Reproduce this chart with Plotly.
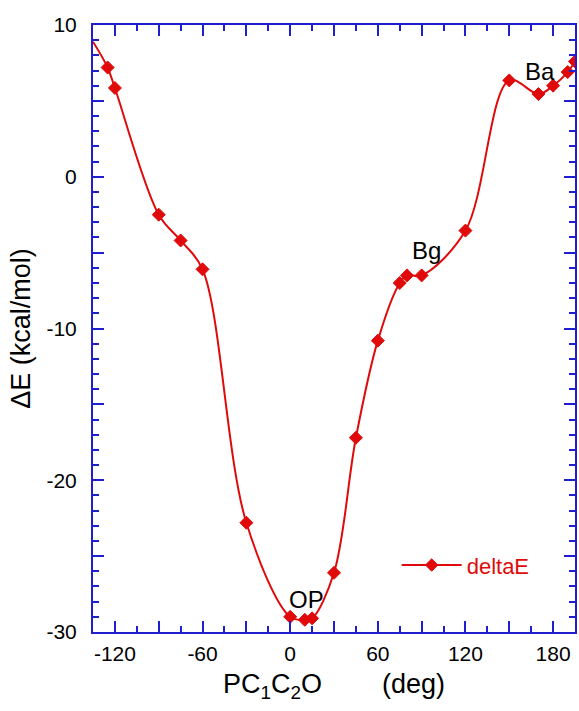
import plotly.graph_objects as go

# Data (dihedral angle in degrees, relative energy in kcal/mol)
# The first point is the curve's left end (no marker shown there)
dihedral = [-135, -125, -120, -90, -75, -60, -30, 0, 10, 15, 30, 45, 60, 75, 80, 90,
            120, 150, 170, 180, 190, 195]
delta_e = [8.9, 7.2, 5.85, -2.5, -4.2, -6.1, -22.8, -29.0, -29.2, -29.1, -26.1, -17.2,
           -10.8, -7.0, -6.5, -6.5, -3.55, 6.35, 5.45, 6.0, 6.9, 7.6]
marker_shown = [False] + [True] * (len(dihedral) - 1)

x_tickvals = [-120, -90, -60, -30, 0, 30, 60, 90, 120, 150, 180]
x_ticktext = ["-120", "", "-60", "", "0", "", "60", "", "120", "", "180"]
y_tickvals = [-30, -25, -20, -15, -10, -5, 0, 5, 10]
y_ticktext = ["-30", "", "-20", "", "-10", "", "0", "", "10"]

# labels: (text, index of the data point they belong to, x shift px, y shift px)
point_labels = [("OP", 8, 2, 20), ("Bg", 15, 5, 25), ("Ba", 18, 2, 23)]

RED = "#e00a0a"
BLUE = "#1f1fd0"
FONT = "Liberation Sans, Arial, Helvetica, sans-serif"

fig = go.Figure()
fig.add_trace(go.Scatter(
    x=dihedral, y=delta_e, mode="lines+markers", name="deltaE",
    line=dict(color=RED, width=2, shape="spline", smoothing=1.0),
    marker=dict(symbol="diamond", color=RED, opacity=1,
                size=[10 if s else 0 for s in marker_shown],
                line=dict(color=RED, width=1)),
    cliponaxis=True,
))

for text, idx, dx, dy in point_labels:
    fig.add_annotation(x=dihedral[idx], y=delta_e[idx], text=text, showarrow=False,
                       xshift=dx, yshift=dy,
                       font=dict(family=FONT, size=24, color="black"))

axis_common = dict(
    showline=True, linecolor=BLUE, linewidth=2, mirror="allticks",
    ticks="inside", tickcolor=BLUE, tickwidth=2, ticklen=11,
    showgrid=False, zeroline=False,
    tickfont=dict(family=FONT, size=21, color="black"),
)

fig.update_xaxes(
    range=[-135, 195], tickmode="array", tickvals=x_tickvals, ticktext=x_ticktext,
    minor=dict(ticks="inside", dtick=15, tick0=0, ticklen=6, tickcolor=BLUE, tickwidth=2),
    ticklabelstandoff=2,
    title=dict(text="PC<sub>1</sub>C<sub>2</sub>O\u00a0\u00a0\u00a0\u00a0\u00a0\u00a0\u00a0\u00a0(deg)",
               font=dict(family=FONT, size=27, color="black"), standoff=10),
    **axis_common,
)
fig.update_yaxes(
    range=[-30, 10], tickmode="array", tickvals=y_tickvals, ticktext=y_ticktext,
    minor=dict(ticks="inside", dtick=1, tick0=0, ticklen=6, tickcolor=BLUE, tickwidth=2),
    ticklabelstandoff=10,
    title=dict(text="\u0394E (kcal/mol)",
               font=dict(family=FONT, size=27, color="black"), standoff=8),
    **axis_common,
)

fig.update_layout(
    width=579, height=711,
    margin=dict(l=93, r=4, t=25, b=79, autoexpand=False),
    paper_bgcolor="white", plot_bgcolor="white",
    showlegend=True,
    legend=dict(x=0.63, y=0.11, xanchor="left", yanchor="middle",
                bgcolor="rgba(0,0,0,0)", itemwidth=60,
                font=dict(family=FONT, size=22, color=RED)),
    font=dict(family=FONT),
)

fig.write_html("out.html", config={"displayModeBar": False},
               post_script="document.body.style.margin='0';document.body.style.overflow='hidden';")
